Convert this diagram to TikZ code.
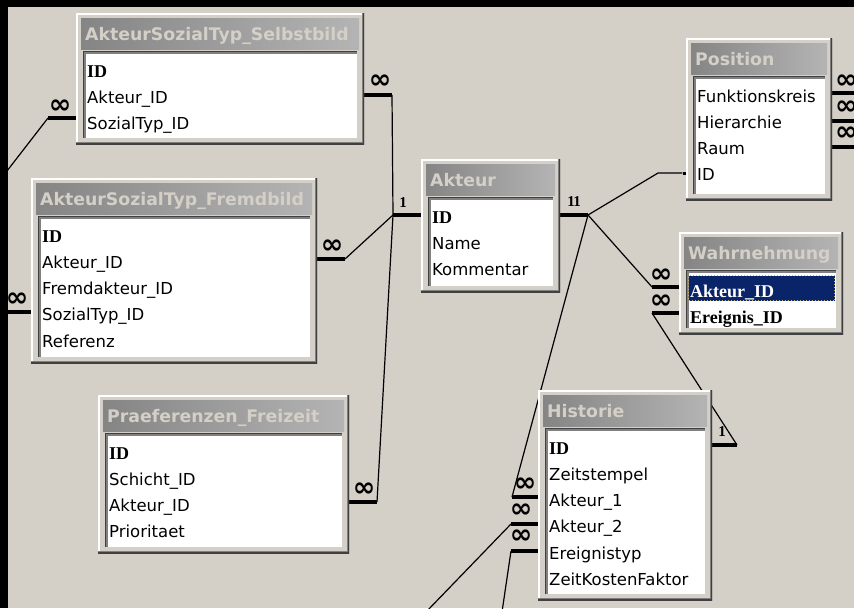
\documentclass[tikz,border=0pt]{standalone}
\usepackage{fontspec}
\setmainfont{DejaVu Sans}
\newfontfamily\keyfont{Liberation Serif}
\usetikzlibrary{calc}
\pgfdeclarelayer{bg}
\pgfsetlayers{bg,main}

\definecolor{winface}{HTML}{D4D0C8}
\definecolor{winshadow}{HTML}{808080}
\definecolor{windark}{HTML}{404040}
\definecolor{capleft}{HTML}{858585}
\definecolor{capright}{HTML}{B4B4B4}
\definecolor{captext}{HTML}{D4D0C8}
\definecolor{selnavy}{HTML}{0A246A}
\definecolor{focusdot}{HTML}{C8B46E}

\newcommand{\keyf}[1]{{\keyfont\bfseries\fontsize{18}{20}\selectfont #1}}

\tikzstyle{tblframe} = [rectangle, fill=winface, inner sep=0pt, path picture={
    \draw [white, line width=4pt] (path picture bounding box.south west) -- (path picture bounding box.north west) -- (path picture bounding box.north east);
    \draw [winshadow, line width=4pt] (path picture bounding box.south west) -- (path picture bounding box.south east) -- (path picture bounding box.north east);
    \draw [windark, line width=2pt] (path picture bounding box.south west) -- (path picture bounding box.south east) -- (path picture bounding box.north east);}]
\tikzstyle{tbltitle} = [rectangle, inner sep=0pt, left color=capleft, right color=capright]
\tikzstyle{tbllist} = [rectangle, fill=white, inner sep=0pt, path picture={
    \draw [winshadow, line width=5pt] (path picture bounding box.south west) -- (path picture bounding box.north west) -- (path picture bounding box.north east);
    \draw [windark, line width=2pt] (path picture bounding box.south west) -- (path picture bounding box.north west) -- (path picture bounding box.north east);}]
\tikzstyle{tblname} = [anchor=base west, inner sep=0pt, text=captext, font=\bfseries\fontsize{17.3}{20}\selectfont]
\tikzstyle{field} = [anchor=base west, inner sep=0pt, font=\fontsize{16.5}{20}\selectfont]
\tikzstyle{selrow} = [rectangle, fill=selnavy, draw=focusdot, dotted, line width=1pt, inner sep=0pt]
\tikzstyle{relbar} = [line width=4pt]
\tikzstyle{relline} = [line width=1.2pt]
\tikzstyle{manymark} = [inner sep=0pt, font=\bfseries\fontsize{27}{27}\selectfont]
\tikzstyle{onemark} = [inner sep=0pt, font=\keyfont\bfseries\fontsize{15}{15}\selectfont]
\tikzstyle{enddot} = [rectangle, fill=black, inner sep=0pt, minimum size=3pt]

\newcommand{\dbtable}[6]{%
    \node [tblframe, minimum width={(#4-#2)*1pt}, minimum height={(#5-#3)*1pt}] (#1) at ({(#2+#4)/2},{(#3+#5)/2}) {};
    \node [tbltitle, anchor=north west, minimum width={(#4-#2-10)*1pt}, minimum height=31pt] (#1-title) at (#2+5,#3+5) {};
    \node [tblname] (#1-name) at (#2+9,#3+27) {#6};
    \node [tbllist, anchor=north west, minimum width={(#4-#2-14)*1pt}, minimum height={(#5-#3-44)*1pt}] (#1-list) at (#2+7,#3+38) {};
}

\begin{document}
\begin{tikzpicture}[x=1pt, y=-1pt]
    \useasboundingbox (0,0) rectangle (854,608);

    \dbtable{selb}{76}{13}{364}{144}{AkteurSozialTyp\_Selbstbild}
    \dbtable{fremd}{31}{178}{317}{363}{AkteurSozialTyp\_Fremdbild}
    \dbtable{akteur}{421}{159}{560}{292}{Akteur}
    \dbtable{position}{686}{38}{832}{200}{Position}
    \dbtable{wahr}{679}{232}{843}{334}{Wahrnehmung}
    \dbtable{praef}{98}{395}{349}{553}{Praeferenzen\_Freizeit}
    \dbtable{hist}{538}{390}{712}{600}{Historie}

    \foreach \f [count=\i from 0] in {\keyf{ID},Akteur\_ID,SozialTyp\_ID}
        \node [field] (selb-\i) at (87,77+26.3*\i) {\f};
    \foreach \f [count=\i from 0] in {\keyf{ID},Akteur\_ID,Fremdakteur\_ID,SozialTyp\_ID,Referenz}
        \node [field] (fremd-\i) at (42,242+26.3*\i) {\f};
    \foreach \f [count=\i from 0] in {\keyf{ID},Name,Kommentar}
        \node [field] (akteur-\i) at (432,223+26.3*\i) {\f};
    \foreach \f [count=\i from 0] in {Funktionskreis,Hierarchie,Raum,ID}
        \node [field] (position-\i) at (697,102+26.3*\i) {\f};
    \foreach \f [count=\i from 0] in {\keyf{ID},Schicht\_ID,Akteur\_ID,Prioritaet}
        \node [field] (praef-\i) at (109,459+26.3*\i) {\f};
    \foreach \f [count=\i from 0] in {\keyf{ID},Zeitstempel,Akteur\_1,Akteur\_2,Ereignistyp,ZeitKostenFaktor}
        \node [field] (hist-\i) at (549,454+26.3*\i) {\f};

    \node [selrow, anchor=north west, minimum width=146pt, minimum height=25pt] (wahr-sel) at (688,275) {};
    \node [field, text=white] (wahr-0) at (690,297) {\keyf{Akteur\_ID}};
    \node [field] (wahr-1) at (690,323) {\keyf{Ereignis\_ID}};

    \node [enddot] (posdot) at (684,173) {};

    \node [onemark] (akL-1) at (403,203) {1};
    \node [onemark] (akR-1) at (574,202) {1\kern-1.5pt 1};
    \node [onemark] (hisR-1) at (722,432) {1};
    \node [manymark] (selbR-m) at (380,82) {∞};
    \node [manymark] (selbL-m) at (60,107) {∞};
    \node [manymark] (fremR-m) at (332,247) {∞};
    \node [manymark] (fremL-m) at (17,300) {∞};
    \node [manymark] (praeR-m) at (364,490) {∞};
    \node [manymark] (wahL1-m) at (661,276) {∞};
    \node [manymark] (wahL2-m) at (661,302) {∞};
    \node [manymark] (hisL1-m) at (525,485) {∞};
    \node [manymark] (hisL2-m) at (521,511) {∞};
    \node [manymark] (hisL3-m) at (521,537) {∞};
    \foreach \y [count=\i] in {82,108,134}
        \node [manymark, anchor=west] (posR\i-m) at (835,\y) {∞};

    \begin{pgfonlayer}{bg}
        \fill [winface] (0,0) rectangle (854,608);
        \coordinate (akL) at (393,215);
        \coordinate (akR) at (588,215);
        \coordinate (selbR) at (392,95);
        \coordinate (selbL) at (48,118);
        \coordinate (selbX) at (0,180);
        \coordinate (fremR) at (345,259);
        \coordinate (fremL) at (0,312);
        \coordinate (praeR) at (377,502);
        \coordinate (posK) at (658,173);
        \coordinate (wahL1) at (652,287);
        \coordinate (wahL2) at (652,313);
        \coordinate (hisL1) at (512,497);
        \coordinate (hisL2) at (511,524);
        \coordinate (hisL3) at (511,551);
        \coordinate (hisX2) at (426,612);
        \coordinate (hisX3) at (502,612);
        \coordinate (hisR) at (737,445);

        \draw [relbar] (akL) -- (akteur.west |- akL); \draw [relbar] (akteur.east |- akR) -- (akR);
        \draw [relbar] (selb.east |- selbR) -- (selbR); \draw [relline] (selbR) -- (akL);
        \draw [relbar] (fremd.east |- fremR) -- (fremR); \draw [relline] (fremR) -- (akL);
        \draw [relbar] (praef.east |- praeR) -- (praeR); \draw [relline] (praeR) -- (akL);
        \draw [relbar] (selb.west |- selbL) -- (selbL); \draw [relline] (selbL) -- (selbX);
        \draw [relbar] (fremd.west |- fremL) -- (fremL);
        \draw [relline] (akR) -- (posK) -- (posdot);
        \draw [relbar] (wahr.west |- wahL1) -- (wahL1); \draw [relline] (akR) -- (wahL1);
        \draw [relbar] (wahr.west |- wahL2) -- (wahL2); \draw [relline] (wahL2) -- (hisR);
        \draw [relbar] (hist.east |- hisR) -- (hisR);
        \draw [relbar] (hist.west |- hisL1) -- (hisL1); \draw [relline] (hisL1) -- (akR);
        \draw [relbar] (hist.west |- hisL2) -- (hisL2); \draw [relline] (hisL2) -- (hisX2);
        \draw [relbar] (hist.west |- hisL3) -- (hisL3); \draw [relline] (hisL3) -- (hisX3);
        \foreach \y [count=\i] in {93,121,147} {
            \coordinate (posR\i) at (858,\y);
            \draw [relbar] (position.east |- posR\i) -- (posR\i);
        }
    \end{pgfonlayer}

    \fill [black] (0,0) rectangle (8,608);
    \fill [black] (0,0) rectangle (854,7);
\end{tikzpicture}
\end{document}
